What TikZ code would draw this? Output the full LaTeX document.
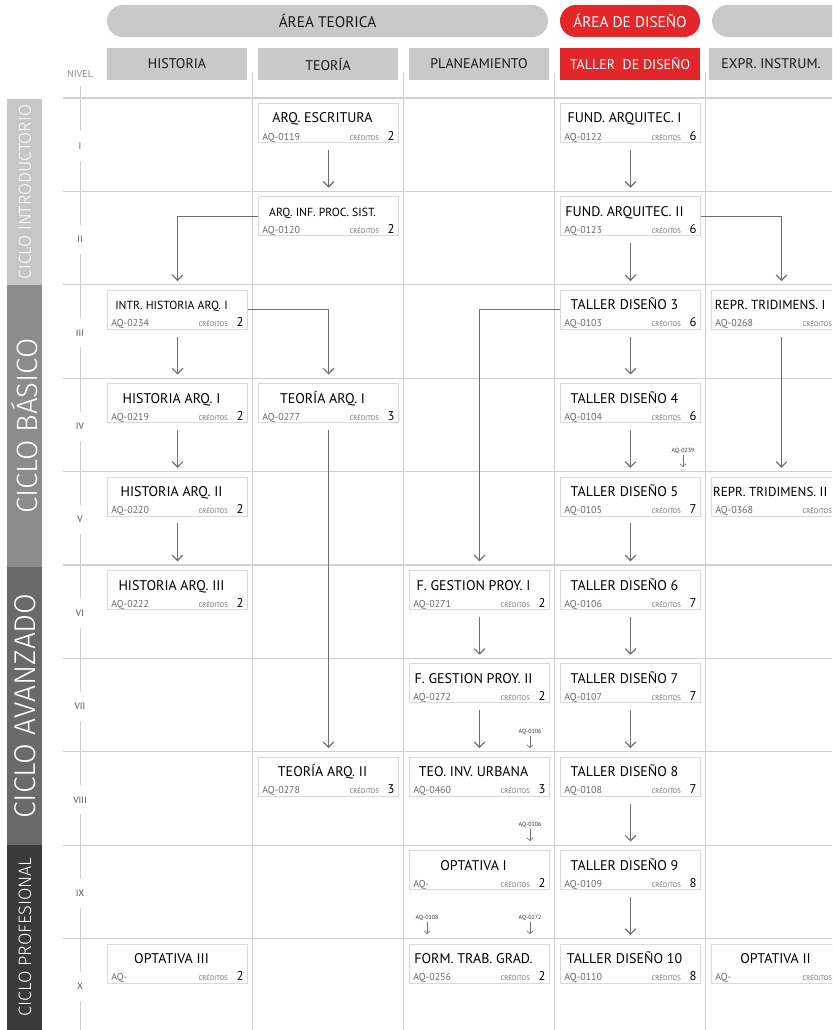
\documentclass[tikz,border=0pt]{standalone}
\usepackage{fontspec}
\setmainfont{PT Sans}
\newfontfamily\ligera{Fira Sans}[UprightFont=* Light]
\usetikzlibrary{positioning,calc,arrows.meta}

\definecolor{gris}{HTML}{C9C9C9}
\definecolor{rojo}{HTML}{E3262A}
\definecolor{linea}{HTML}{CFCFCF}
\definecolor{borde}{HTML}{D9D9D9}
\definecolor{gristexto}{HTML}{6A6A6A}
\definecolor{grisflecha}{HTML}{707070}
\definecolor{cicloa}{HTML}{C6C6C6}
\definecolor{ciclob}{HTML}{8C8C8C}
\definecolor{cicloc}{HTML}{6A6A6A}
\definecolor{ciclod}{HTML}{3A3A3A}

\newcommand{\curso}[7][titulo]{%
  \pgfmathsetmacro{\cursoy}{103+93.4*(#4-1)}
  \node[curso] (#2) at (#3,\cursoy) {};
  \node[#1] (#2-t) at ($(#2.north)+(-6,20)$) {#5};
  \node[codigo] (#2-c) at ($(#2.south west)+(4,-3)$) {#6};
  \node[creditos] (#2-k) at ($(#2.south east)+(-20,-3)$) {CRÉDITOS};
  \node[numero] (#2-n) at ($(#2.south east)+(-8,-3)$) {#7};
}

\begin{document}
\begin{tikzpicture}[x=0.75pt,y=-0.75pt,
  pildora/.style={fill=gris, rounded corners=12pt, minimum height=24pt, inner sep=0pt, text=black!90, font=\fontsize{11.5}{13}\selectfont},
  cabecera/.style={fill=gris, minimum height=24pt, minimum width=105pt, inner sep=0pt, text=black!90, font=\fontsize{10.5}{12}\selectfont},
  ciclo/.style={rotate=90, text=white, inner sep=0pt},
  nivel/.style={draw=linea, line width=0.9pt},
  sep/.style={draw=linea, line width=0.7pt},
  eje/.style={draw=linea, line width=0.7pt},
  romano/.style={fill=white, minimum height=22pt, inner sep=1pt, text=black!70, font=\fontsize{7}{8}\selectfont},
  curso/.style={draw=borde, line width=0.8pt, fill=white, minimum width=105pt, minimum height=29.25pt, inner sep=0pt, anchor=north west},
  titulo/.style={anchor=base, inner sep=0pt, font=\fontsize{10.5}{12}\selectfont},
  tituloch/.style={anchor=base, inner sep=0pt, font=\fontsize{8.8}{10}\selectfont},
  tituloe/.style={anchor=base, inner sep=0pt, xshift=-4pt, font=\fontsize{9.8}{11}\selectfont},
  codigo/.style={anchor=base west, inner sep=0pt, text=gristexto, font=\fontsize{7.5}{8}\selectfont},
  creditos/.style={anchor=base east, inner sep=0pt, text=gristexto, font=\fontsize{5}{6}\selectfont},
  numero/.style={anchor=base, inner sep=0pt, font=\fontsize{9.5}{10}\selectfont},
  flecha/.style={draw=grisflecha, line width=0.9pt, -{Straight Barb[length=4pt,width=8pt]}, shorten <=5pt, shorten >=6.5pt},
  codo/.style={draw=grisflecha, line width=0.9pt, -{Straight Barb[length=4pt,width=8pt]}, shorten >=6.5pt},
  nota/.style={inner sep=0.5pt, text=black!80, font=\fontsize{4.5}{5}\selectfont},
  flechita/.style={draw=grisflecha, line width=0.5pt, -{Straight Barb[length=2pt,width=4.5pt]}}]

  \useasboundingbox (0,0) rectangle (832,1030);
  \clip (0,0) rectangle (832,1030);

  \node[pildora, minimum width=330.75pt] (ateorica) at (327.5,21) {ÁREA TEORICA};
  \node[pildora, minimum width=105pt, fill=rojo, text=white] (adiseno) at (630,21) {ÁREA DE DISEÑO};
  \node[pildora, minimum width=180pt] (aexpr) at (832,21) {};

  \draw[sep] (252.5,73) -- (252.5,1030);
  \draw[sep] (403.5,73) -- (403.5,1030);
  \draw[sep] (554,73) -- (554,1030);
  \draw[sep] (705.5,73) -- (705.5,1030);

  \node[cabecera] (chist) at (177,64) {HISTORIA};
  \node[cabecera] (cteo) at (328,64) {TEORÍA};
  \node[cabecera] (cplan) at (479,64) {PLANEAMIENTO};
  \node[cabecera, fill=rojo, text=white] (ctaller) at (630,64) {TALLER\ \ DE DISEÑO};
  \node[cabecera, minimum width=93pt] (cexpr) at (771,64) {EXPR. INSTRUM.};

  \node[text=black!45, inner sep=0pt, font=\fontsize{7.5}{8}\selectfont] (nivel) at (80,74) {NIVEL};
  \draw[eje] (80,86) -- (80,1030);

  \fill[cicloa] (7,99) rectangle (42,285);
  \fill[ciclob] (7,285) rectangle (42,567);
  \fill[cicloc] (7,567) rectangle (42,845);
  \fill[ciclod] (7,845) rectangle (42,1030);
  \node[ciclo, font=\ligera\fontsize{13}{14}\selectfont] (cintro) at (25,192) {CICLO INTRODUCTORIO};
  \node[ciclo, font=\ligera\fontsize{22}{24}\selectfont] (cbasico) at (25,426) {CICLO BÁSICO};
  \node[ciclo, font=\ligera\fontsize{22.5}{24}\selectfont] (cavanz) at (25,706) {CICLO AVANZADO};
  \node[ciclo, font=\ligera\fontsize{13.5}{14}\selectfont] (cprof) at (25,937) {CICLO PROFESIONAL};

  \draw[nivel] (63,98) -- (832,98);
  \draw[nivel] (63,191.4) -- (832,191.4);
  \draw[nivel] (63,284.8) -- (832,284.8);
  \draw[nivel] (63,378.2) -- (832,378.2);
  \draw[nivel] (63,471.6) -- (832,471.6);
  \draw[nivel] (63,565) -- (832,565);
  \draw[nivel] (63,658.4) -- (832,658.4);
  \draw[nivel] (63,751.8) -- (832,751.8);
  \draw[nivel] (63,845.2) -- (832,845.2);
  \draw[nivel] (63,938.6) -- (832,938.6);

  \node[romano] (r1) at (80,146) {I};
  \node[romano] (r2) at (80,239.4) {II};
  \node[romano] (r3) at (80,332.8) {III};
  \node[romano] (r4) at (80,426.2) {IV};
  \node[romano] (r5) at (80,519.6) {V};
  \node[romano] (r6) at (80,613) {VI};
  \node[romano] (r7) at (80,706.4) {VII};
  \node[romano] (r8) at (80,799.8) {VIII};
  \node[romano] (r9) at (80,893.2) {IX};
  \node[romano] (r10) at (80,986.6) {X};

  \curso[tituloch]{h3}{107}{3}{INTR. HISTORIA ARQ. I}{AQ-0234}{2}
  \curso{h4}{107}{4}{HISTORIA ARQ. I}{AQ-0219}{2}
  \curso{h5}{107}{5}{HISTORIA ARQ. II}{AQ-0220}{2}
  \curso{h6}{107}{6}{HISTORIA ARQ. III}{AQ-0222}{2}
  \curso{h10}{107}{10}{OPTATIVA III}{AQ-}{2}

  \curso{t1}{258}{1}{ARQ. ESCRITURA}{AQ-0119}{2}
  \curso[tituloch]{t2}{258}{2}{ARQ. INF. PROC. SIST.}{AQ-0120}{2}
  \curso{t4}{258}{4}{TEORÍA ARQ. I}{AQ-0277}{3}
  \curso{t8}{258}{8}{TEORÍA ARQ. II}{AQ-0278}{3}

  \curso{p6}{409}{6}{F. GESTION PROY. I}{AQ-0271}{2}
  \curso{p7}{409}{7}{F. GESTION PROY. II}{AQ-0272}{2}
  \curso{p8}{409}{8}{TEO. INV. URBANA}{AQ-0460}{3}
  \curso{p9}{409}{9}{OPTATIVA I}{AQ-}{2}
  \curso{p10}{409}{10}{FORM. TRAB. GRAD.}{AQ-0256}{2}

  \curso{d1}{560}{1}{FUND. ARQUITEC. I}{AQ-0122}{6}
  \curso{d2}{560}{2}{FUND. ARQUITEC. II}{AQ-0123}{6}
  \curso{d3}{560}{3}{TALLER DISEÑO 3}{AQ-0103}{6}
  \curso{d4}{560}{4}{TALLER DISEÑO 4}{AQ-0104}{6}
  \curso{d5}{560}{5}{TALLER DISEÑO 5}{AQ-0105}{7}
  \curso{d6}{560}{6}{TALLER DISEÑO 6}{AQ-0106}{7}
  \curso{d7}{560}{7}{TALLER DISEÑO 7}{AQ-0107}{7}
  \curso{d8}{560}{8}{TALLER DISEÑO 8}{AQ-0108}{7}
  \curso{d9}{560}{9}{TALLER DISEÑO 9}{AQ-0109}{8}
  \curso{d10}{560}{10}{TALLER DISEÑO 10}{AQ-0110}{8}

  \curso[tituloe]{e3}{711}{3}{REPR. TRIDIMENS. I}{AQ-0268}{}
  \curso[tituloe]{e5}{711}{5}{REPR. TRIDIMENS. II}{AQ-0368}{}
  \curso{e10}{711}{10}{OPTATIVA II}{AQ-}{}

  \draw[flecha] (t1.south) -- (t2.north);
  \draw[codo] (t2.west) -| (h3.north);
  \draw[flecha] (d1.south) -- (d2.north);
  \draw[codo] (d2.east) -| (e3.north);
  \draw[flecha] (d2.south) -- (d3.north);
  \draw[codo] (h3.east) -| (t4.north);
  \draw[flecha] (h3.south) -- (h4.north);
  \draw[codo] (d3.west) -| (p6.north);
  \draw[flecha] (d3.south) -- (d4.north);
  \draw[flecha] (e3.south) -- (e5.north);
  \draw[flecha] (h4.south) -- (h5.north);
  \draw[flecha] (t4.south) -- (t8.north);
  \draw[flecha] (d4.south) -- (d5.north);
  \draw[flecha] (h5.south) -- (h6.north);
  \draw[flecha] (d5.south) -- (d6.north);
  \draw[flecha] (p6.south) -- (p7.north);
  \draw[flecha] (d6.south) -- (d7.north);
  \draw[flecha] (p7.south) -- (p8.north);
  \draw[flecha] (d7.south) -- (d8.north);
  \draw[flecha] (d8.south) -- (d9.north);
  \draw[flecha] (d9.south) -- (d10.north);

  \node[nota] (n0239) at (683,451) {AQ-0239};
  \coordinate (f0239) at (683,467);
  \draw[flechita] (n0239.south) -- (f0239);
  \node[nota] (n0106a) at (530,732) {AQ-0106};
  \coordinate (f0106a) at (530,748);
  \draw[flechita] (n0106a.south) -- (f0106a);
  \node[nota] (n0106b) at (530,825) {AQ-0106};
  \coordinate (f0106b) at (530,841);
  \draw[flechita] (n0106b.south) -- (f0106b);
  \node[nota] (n0108) at (427,918) {AQ-0108};
  \coordinate (f0108) at (427,934);
  \draw[flechita] (n0108.south) -- (f0108);
  \node[nota] (n0272) at (530,918) {AQ-0272};
  \coordinate (f0272) at (530,934);
  \draw[flechita] (n0272.south) -- (f0272);
\end{tikzpicture}
\end{document}
